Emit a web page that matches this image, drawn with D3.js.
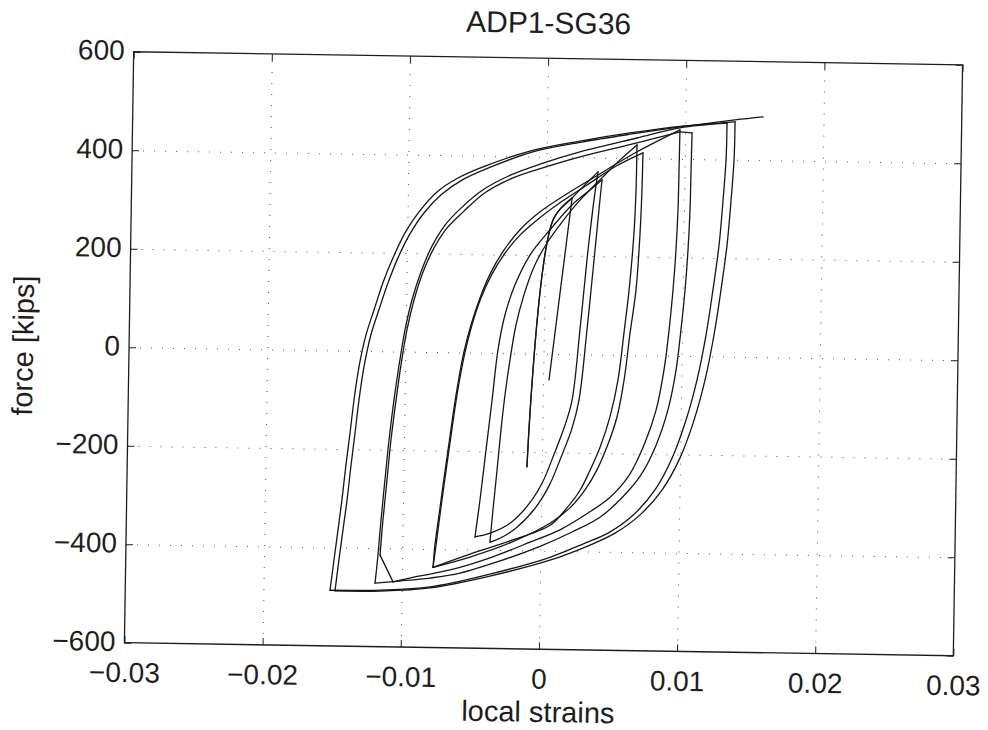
<!DOCTYPE html>
<html>
<head>
<meta charset="utf-8">
<script src="https://cdn.jsdelivr.net/npm/d3@7"></script>
<style>
  html, body { margin: 0; padding: 0; background: #fff; }
  svg { display: block; }
  text { font-family: "Liberation Sans", Arial, Helvetica, sans-serif; fill: #1e1e1e; }
</style>
</head>
<body>
<svg id="chart" width="988" height="730"></svg>
<script>
// ---- labels and ticks ----
const chartTitle = "ADP1-SG36";
const xLabel = "local strains";
const yLabel = "force [kips]";
const xTicks = [-0.03, -0.02, -0.01, 0, 0.01, 0.02, 0.03];
const xTickLabels = ["\u22120.03", "\u22120.02", "\u22120.01", "0", "0.01", "0.02", "0.03"];
const yTicks = [-600, -400, -200, 0, 200, 400, 600];
const yTickLabels = ["\u2212600", "\u2212400", "\u2212200", "0", "200", "400", "600"];

// ---- load history, one array pair per amplitude level ----
// initial elastic excursions
const strainD = [0.00043, 0.00189, 0.00054, -0.00107, 0.00054, 0.00189, 0.00374];
const forceD  = [-53, 317, 272, -230, 272, 317, 371];

// cycles at about +/-0.004
const strainC = [0.00374, 0.00348, 0.00304, 0.00261, 0.00212, 0.00164, 0.00094, 0.00004, -0.00095, -0.00223, -0.00367, -0.00475,
                 -0.00443, -0.00405, -0.00367, -0.0033, -0.00283, -0.00214, -0.00109, 0.00033, 0.00189, 0.00318, 0.00404,
                 0.00391, 0.00355, 0.00312, 0.00262, 0.00215, 0.00145, 0.00055, -0.00044, -0.00172, -0.00294, -0.00366];
const forceC  = [371, 314, 192, 49, -93, -144, -199, -263, -308, -345, -366, -374,
                 -299, -197, -96, 6, 78, 139, 200, 252, 303, 334, 355,
                 314, 192, 50, -93, -150, -205, -268, -314, -353, -376, -384];

// cycles at about +/-0.007
const strainA = [-0.00366, -0.00348, -0.00323, -0.00299, -0.00274, -0.00242, -0.00202, -0.00148, -0.00079, 0.00013, 0.00119, 0.00247, 0.00403, 0.00532, 0.00653,
                 0.00651, 0.00641, 0.00612, 0.0058, 0.00542, 0.00488, 0.0042, 0.0035, 0.0028, 0.00173, 0.00067, -0.00221, -0.00509, -0.00775,
                 -0.00756, -0.00731, -0.00705, -0.00673, -0.00641, -0.00608, -0.00568, -0.00521, -0.00459, -0.00382, -0.0029, -0.00184, -0.00055, 0.00102, 0.00296, 0.00496, 0.00697,
                 0.00694, 0.00685, 0.00662, 0.00624, 0.00586, 0.00539, 0.0047, 0.004, 0.00316, 0.00209, 0.00066, -0.00221, -0.00509, -0.00775];
const forceA  = [-384, -319, -238, -156, -85, -14, 58, 119, 176, 225, 268, 313, 359, 396, 427,
                 335, 248, 132, 45, -51, -126, -188, -235, -276, -317, -348, -381, -409, -437,
                 -392, -331, -270, -198, -127, -62, 1, 56, 111, 160, 203, 240, 273, 307, 344, 382, 411,
                 336, 248, 132, 45, -51, -126, -187, -234, -275, -312, -344, -385, -415, -437];

// cycles at about +/-0.011
const strainB = [-0.00775, -0.00764, -0.00738, -0.00712, -0.0068, -0.00648, -0.00615, -0.00576, -0.00528, -0.00466, -0.00389, -0.00298, -0.00184, -0.00041, 0.00138, 0.00353, 0.00654, 0.00962,
                 0.0096, 0.00957, 0.00947, 0.0093, 0.00906, 0.00874, 0.00821, 0.00738, 0.00633, 0.00498, 0.0034, 0.00139, -0.00076, -0.00364, -0.00652, -0.00869, -0.01063,
                 -0.0116, -0.01143, -0.01118, -0.01094, -0.01062, -0.0103, -0.00991, -0.00943, -0.00881, -0.00805, -0.00713, -0.00599, -0.00442, -0.00241, -0.0001, 0.00242, 0.00653, 0.00963, 0.0105,
                 0.01047, 0.01044, 0.01034, 0.01017, 0.00992, 0.00961, 0.00907, 0.00825, 0.00719, 0.00584, 0.00427, 0.00227, -0.00003, -0.00291, -0.00579, -0.00796, -0.01013, -0.01193];
const forceB  = [-437, -392, -331, -270, -199, -127, -62, 1, 56, 111, 164, 209, 251, 288, 323, 361, 413, 459,
                 377, 296, 215, 134, 52, -29, -111, -182, -244, -289, -322, -357, -383, -416, -442, -455, -468,
                 -414, -343, -261, -180, -99, -27, 44, 105, 162, 211, 252, 285, 325, 356, 379, 401, 431, 455, 453,
                 378, 297, 215, 134, 53, -29, -110, -182, -243, -290, -330, -361, -391, -422, -448, -459, -466, -471];

// largest cycles and the final push
const strainOuter = [-0.01193, -0.01175, -0.01157, -0.01133, -0.01108, -0.01077, -0.01044, -0.01005, -0.00958, -0.00896, -0.00819, -0.00727, -0.00614, -0.00456, -0.00256, -0.00025, 0.00241, 0.00652, 0.00962, 0.01302,
                     0.01299, 0.01282, 0.01258, 0.01219, 0.01174, 0.01114, 0.01039, 0.00942, 0.00822, 0.00666, 0.00487, 0.00322, 0.0007, -0.00362, -0.00795, -0.01156, -0.01518,
                     -0.01493, -0.01467, -0.01442, -0.01417, -0.01391, -0.01366, -0.01334, -0.01287, -0.01232, -0.0117, -0.011, -0.01016, -0.00917, -0.00789, -0.00639, -0.00445, -0.00121, 0.0024, 0.00601, 0.00998, 0.0136,
                     0.01357, 0.0134, 0.01316, 0.01277, 0.01232, 0.01172, 0.01097, 0.01, 0.00873, 0.00717, 0.00538, 0.00358, 0.0007, -0.00362, -0.00795, -0.01156, -0.01482,
                     -0.01457, -0.01431, -0.01405, -0.0138, -0.01355, -0.0133, -0.01298, -0.01251, -0.01196, -0.01133, -0.01064, -0.0098, -0.00881, -0.00753, -0.0061, -0.00423, -0.00106, 0.00255, 0.00616, 0.01013, 0.01359, 0.01562];
const forceOuter  = [-471, -414, -343, -261, -180, -99, -28, 44, 105, 162, 215, 258, 293, 331, 362, 387, 411, 441, 463, 474,
                     399, 318, 226, 135, 43, -48, -130, -208, -273, -325, -362, -383, -413, -449, -477, -485, -487,
                     -426, -364, -303, -232, -167, -100, -33, 32, 83, 139, 190, 241, 284, 325, 354, 379, 411, 433, 451, 467, 477,
                     400, 318, 227, 135, 44, -48, -130, -207, -273, -324, -362, -387, -419, -453, -479, -487, -488,
                     -425, -364, -303, -232, -167, -100, -33, 33, 84, 139, 190, 239, 282, 321, 350, 375, 409, 431, 449, 467, 481, 488];

// ---- layout ----
const plot = { left: 129, right: 958, top: 58.25, bottom: 649.25 };
const cx = (plot.left + plot.right) / 2, cy = (plot.top + plot.bottom) / 2;

const svg = d3.select("#chart");
svg.append("rect").attr("width", 988).attr("height", 730).attr("fill", "#fff");
// the printed page sits slightly askew
const root = svg.append("g").attr("transform", `rotate(0.9 ${cx} ${cy})`);

const x = d3.scaleLinear().domain([-0.03, 0.03]).range([plot.left, plot.right]);
const y = d3.scaleLinear().domain([-600, 600]).range([plot.bottom, plot.top]);
const plotW = plot.right - plot.left, plotH = plot.bottom - plot.top;

// dotted grid
const gridStyle = g => {
  g.select(".domain").remove();
  g.selectAll("line").attr("stroke", "#555").attr("stroke-width", 1).attr("stroke-dasharray", "1,10");
};
root.append("g")
  .attr("transform", `translate(0,${plot.bottom})`)
  .call(d3.axisBottom(x).tickValues(xTicks.slice(1, -1)).tickSize(-plotH).tickFormat(""))
  .call(gridStyle);
root.append("g")
  .attr("transform", `translate(${plot.left},0)`)
  .call(d3.axisLeft(y).tickValues(yTicks.slice(1, -1)).tickSize(-plotW).tickFormat(""))
  .call(gridStyle);

// hysteresis curves: split at reversals so the turning points stay sharp
function branches(xs, ys) {
  const out = [];
  let cur = [[xs[0], ys[0]]], dx = 0, dy = 0;
  for (let i = 1; i < xs.length; i++) {
    const sx = Math.sign(xs[i] - xs[i - 1]), sy = Math.sign(ys[i] - ys[i - 1]);
    if ((dx && sx && sx !== dx) || (dy && sy && sy !== dy)) {
      out.push(cur);
      cur = [[xs[i - 1], ys[i - 1]]];
    }
    if (sx) dx = sx;
    if (sy) dy = sy;
    cur.push([xs[i], ys[i]]);
  }
  out.push(cur);
  return out;
}
const curve = d3.line()
  .x(d => x(d[0]))
  .y(d => y(d[1]))
  .curve(d3.curveCatmullRom.alpha(0.5));

const levels = [
  [strainD, forceD], [strainC, forceC], [strainA, forceA], [strainB, forceB], [strainOuter, forceOuter]
];
const curves = root.append("g").attr("fill", "none").attr("stroke", "#161616")
  .attr("stroke-width", 1.3).attr("stroke-linejoin", "round").attr("stroke-linecap", "round");
levels.forEach(([s, f]) => {
  branches(s, f).forEach(b => curves.append("path").attr("d", curve(b)));
});

// box and inward ticks on all four sides
const tickLen = 7;
const tickFont = 28;
const axisStyle = g => {
  g.select(".domain").remove();
  g.selectAll(".tick line").attr("stroke", "#1e1e1e").attr("stroke-width", 1);
  g.selectAll("text").attr("font-size", tickFont).attr("fill", "#1e1e1e");
};
root.append("g")
  .attr("transform", `translate(0,${plot.bottom})`)
  .call(d3.axisBottom(x).tickValues(xTicks).tickFormat((d, i) => xTickLabels[i])
    .tickSizeInner(-tickLen).tickSizeOuter(0).tickPadding(19.5))
  .call(axisStyle);
root.append("g")
  .attr("transform", `translate(0,${plot.top})`)
  .call(d3.axisTop(x).tickValues(xTicks).tickFormat("").tickSizeInner(-tickLen).tickSizeOuter(0))
  .call(axisStyle);
root.append("g")
  .attr("transform", `translate(${plot.left},0)`)
  .call(d3.axisLeft(y).tickValues(yTicks).tickFormat((d, i) => yTickLabels[i])
    .tickSizeInner(-tickLen).tickSizeOuter(0).tickPadding(9))
  .call(axisStyle)
  .call(g => g.selectAll("text").attr("dy", "0.28em"));
root.append("g")
  .attr("transform", `translate(${plot.right},0)`)
  .call(d3.axisRight(y).tickValues(yTicks).tickFormat("").tickSizeInner(-tickLen).tickSizeOuter(0))
  .call(axisStyle);

root.append("rect")
  .attr("x", plot.left).attr("y", plot.top).attr("width", plotW).attr("height", plotH)
  .attr("fill", "none").attr("stroke", "#1e1e1e").attr("stroke-width", 1.3);

// titles
root.append("text").attr("x", cx).attr("y", 33).attr("text-anchor", "middle")
  .attr("font-size", 30).text(chartTitle);
root.append("text").attr("x", cx).attr("y", 722).attr("text-anchor", "middle")
  .attr("font-size", 29).text(xLabel);
root.append("text").attr("transform", `translate(33,${cy}) rotate(-90)`).attr("text-anchor", "middle")
  .attr("font-size", 29).text(yLabel);
</script>
</body>
</html>
